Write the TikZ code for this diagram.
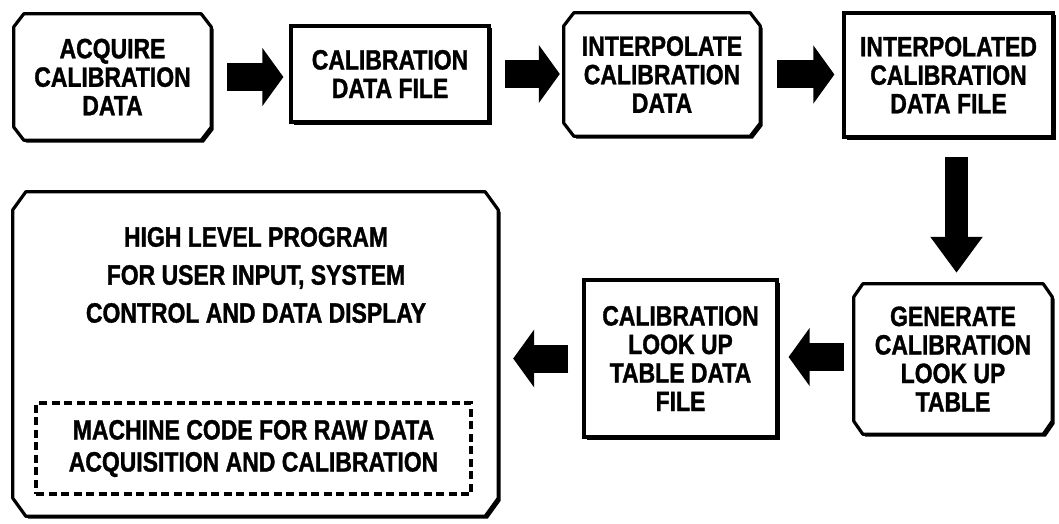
\documentclass[tikz,border=0pt]{standalone}
\usepackage{fontspec}
\newfontfamily\boxfont{Liberation Sans}[FakeStretch=0.82,FakeBold=1.2]
\usetikzlibrary{arrows.meta,calc,shadows,backgrounds}
\tikzset{
  txt/.style={font=\boxfont\bfseries\fontsize{28}{28.5}\selectfont, align=center, inner sep=0pt},
  filebox/.style={txt, rectangle, draw=black, fill=white, line width=3.2pt,
     drop shadow={shadow xshift=2.5pt, shadow yshift=-2.5pt, fill=black, opacity=1}},
  frame/.style={fill=white, draw=black, line width=3.2pt, line join=round,
     drop shadow={shadow xshift=2.5pt, shadow yshift=-2.5pt, fill=black, opacity=1}},
  chamf/.style n args={3}{insert path={
     ($(#1.north west)+(0,#3)$) -- ($(#1.north west)+(#2,0)$) --
     ($(#1.north east)+(-#2,0)$) -- ($(#1.north east)+(0,#3)$) --
     ($(#1.south east)+(0,-#3)$) -- ($(#1.south east)+(-#2,0)$) --
     ($(#1.south west)+(#2,0)$) -- ($(#1.south west)+(0,-#3)$) -- cycle}},
  harrow/.style={line width=28pt, -{Triangle[length=21pt,width=57pt]}},
  varrow/.style={line width=23pt, -{Triangle[length=36pt,width=50pt]}},
  dashbox/.style={txt, draw=black, line width=3.2pt, dash pattern=on 8pt off 4.5pt,
     font=\boxfont\bfseries\fontsize{28}{32}\selectfont}
}
\begin{document}
\begin{tikzpicture}[x=1pt,y=-1pt]
\useasboundingbox (0,0) rectangle (1059,524);

% process boxes (chamfered frames drawn on background)
\node[txt, minimum width=197pt, minimum height=126pt] (b1) at (112.5,77) {ACQUIRE\\CALIBRATION\\DATA};
\node[txt, minimum width=196pt, minimum height=123pt] (b3) at (662,74.5) {INTERPOLATE\\CALIBRATION\\DATA};
\node[txt, minimum width=198pt, minimum height=150pt] (b5) at (953,359) {GENERATE\\CALIBRATION\\LOOK UP\\TABLE};
\node[minimum width=485pt, minimum height=324pt, inner sep=0pt] (b7) at (255.5,354) {};
\node[txt, font=\boxfont\bfseries\fontsize{28}{38}\selectfont] (b7t) at (256,275) {HIGH LEVEL PROGRAM\\FOR USER INPUT, SYSTEM\\CONTROL AND DATA DISPLAY};

% file boxes
\node[filebox, minimum width=198pt, minimum height=96pt] (b2) at (390,74) {CALIBRATION\\DATA FILE};
\node[filebox, minimum width=209pt, minimum height=124pt] (b4) at (948.5,75) {INTERPOLATED\\CALIBRATION\\DATA FILE};
\node[filebox, minimum width=193pt, minimum height=157pt] (b6) at (680.5,358.5) {CALIBRATION\\LOOK UP\\TABLE DATA\\FILE};

% dashed inner box
\node[dashbox, minimum width=435pt, minimum height=91pt] (mc) at (253.5,448.5) {MACHINE CODE FOR RAW DATA\\ACQUISITION AND CALIBRATION};

\begin{scope}[on background layer]
  \filldraw[frame, chamf={b1}{10}{13}];
  \filldraw[frame, chamf={b3}{10}{13}];
  \filldraw[frame, chamf={b5}{9}{13}];
  \filldraw[frame, chamf={b7}{13}{18}];
\end{scope}

% block arrows
\draw[harrow, shorten <=16pt, shorten >=6pt] (b1.east) -- (b1.east -| b2.west);
\draw[harrow, shorten <=14pt, shorten >=4pt] (b2.east) -- (b2.east -| b3.west);
\draw[harrow, shorten <=17pt, shorten >=8pt] (b3.east) -- (b3.east -| b4.west);
\coordinate (dtop) at ($(b4.south)+(8,0)$);
\draw[varrow, shorten <=18pt, shorten >=11pt] (dtop) -- (dtop |- b5.north);
\draw[harrow, shorten <=10pt, shorten >=10pt] ($(b5.west)+(0,-2)$) -- ($(b5.west -| b6.east)+(0,-2)$);
\draw[harrow, shorten <=14pt, shorten >=15pt] (b6.west) -- (b6.west -| b7.east);
\end{tikzpicture}
\end{document}
